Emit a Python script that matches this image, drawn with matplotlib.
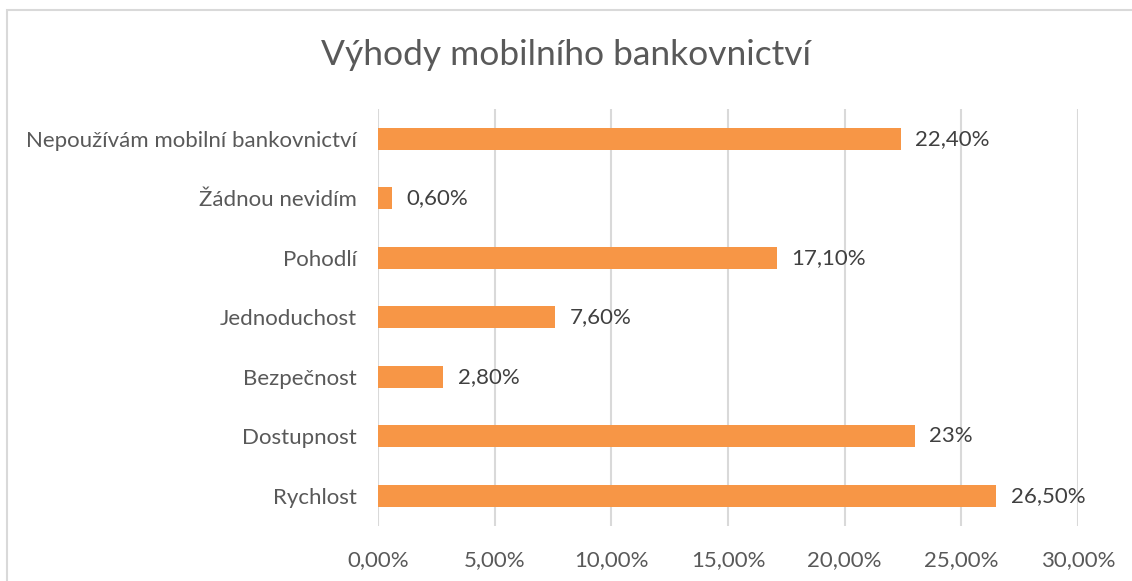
import matplotlib.pyplot as plt
from matplotlib.patches import Rectangle

categories = ['Rychlost', 'Dostupnost', 'Bezpečnost', 'Jednoduchost',
              'Pohodlí', 'Žádnou nevidím', 'Nepoužívám mobilní bankovnictví']
values = [26.5, 23.0, 2.8, 7.6, 17.1, 0.6, 22.4]
value_labels = ['26,50%', '23%', '2,80%', '7,60%', '17,10%', '0,60%', '22,40%']
ticks = [0, 5, 10, 15, 20, 25, 30]
tick_labels = ['0,00%', '5,00%', '10,00%', '15,00%', '20,00%', '25,00%', '30,00%']

plt.rcParams['font.family'] = ['Lato', 'DejaVu Sans']
text_color = '#595959'

fig = plt.figure(figsize=(11.32, 5.81), dpi=100)
ax = fig.add_axes([0.3339, 0.0955, 0.6184, 0.7169])

# chart border, cut off on the right and bottom like the screenshot
fig.patches.append(Rectangle((7 / 1132, -0.1), 1.2, 1 - 10 / 581 + 0.1,
                             transform=fig.transFigure, fill=False,
                             edgecolor='#D9D9D9', linewidth=1.5))

ax.barh(range(len(categories)), values, height=0.37, color='#F79646', zorder=3)
for i, (v, lab) in enumerate(zip(values, value_labels)):
    ax.text(v + 0.62, i, lab, va='center', ha='left', fontsize=16, color='#404040')

ax.set_xlim(0, 30)
ax.set_ylim(-0.5, len(categories) - 0.5)
ax.set_xticks(ticks)
ax.set_xticklabels(tick_labels, fontsize=16, color=text_color)
ax.set_yticks(range(len(categories)))
ax.set_yticklabels(categories, fontsize=16, color=text_color)
ax.tick_params(axis='x', length=0, pad=18)
ax.tick_params(axis='y', length=0, pad=15)
ax.grid(axis='x', color='#D9D9D9', linewidth=1.5, zorder=0)
for s in ax.spines.values():
    s.set_visible(False)

fig.text(0.5, 1 - 55 / 581, 'Výhody mobilního bankovnictví', ha='center', va='center',
         fontsize=25.5, color=text_color)

fig.savefig('out.png', dpi=100)
